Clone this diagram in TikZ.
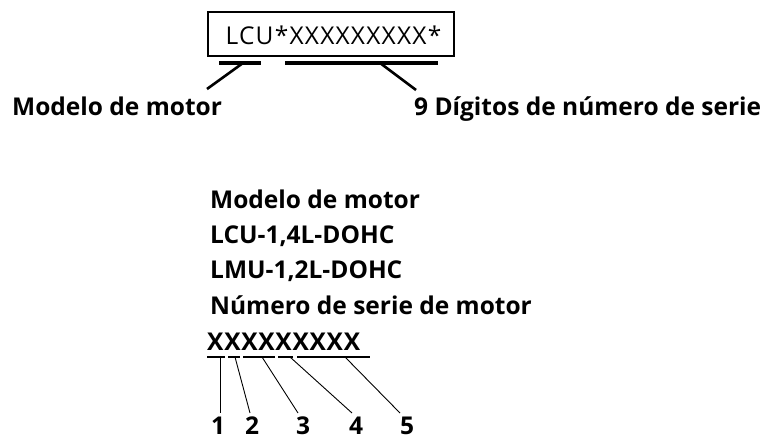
\documentclass[tikz,border=0pt]{standalone}
\usepackage{fontspec}
\setmainfont{Open Sans}
\begin{document}
\begin{tikzpicture}[x=1pt,y=-1pt,
  lbl/.style={font=\fontsize{24.5}{24.5}\selectfont\bfseries, inner sep=0pt},
  codetxt/.style={font=\fontsize{24.5}{24.5}\selectfont\addfontfeature{LetterSpace=5}, inner sep=0pt},
  bar/.style={line width=4pt},
  lead/.style={line width=2.6pt},
  uline/.style={line width=1.2pt},
  thinlead/.style={line width=0.9pt}]
\useasboundingbox[fill=white] (0,0) rectangle (769,439);
% top box
\node[draw, line width=1.2pt, minimum width=246pt, minimum height=44pt, inner sep=0pt] (box) at (331,34) {};
\node[codetxt, anchor=base] (code) at (333.5,45) {LCU*XXXXXXXXX*};
% bars
\coordinate (b1a) at (219,63); \coordinate (b1b) at (261,63);
\coordinate (b2a) at (285,63); \coordinate (b2b) at (438,63);
\draw[bar] (b1a) -- (b1b);
\draw[bar] (b2a) -- (b2b);
\coordinate (l1s) at (243,63); \coordinate (l1e) at (207,89);
\coordinate (l2s) at (380,63); \coordinate (l2e) at (416,90);
\draw[lead] (l1s) -- (l1e);
\draw[lead] (l2s) -- (l2e);
\node[lbl, anchor=base west] (modelo) at (12,115) {Modelo de motor};
\node[lbl, anchor=base west] (digitos) at (414,115) {9 Dígitos de número de serie};
% lower block
\node[lbl, anchor=base west] (t1) at (210,208.5) {Modelo de motor};
\node[lbl, anchor=base west] (t2) at (210,243.5) {LCU-1,4L-DOHC};
\node[lbl, anchor=base west] (t3) at (210,278.5) {LMU-1,2L-DOHC};
\node[lbl, anchor=base west] (t4) at (210,314) {Número de serie de motor};
\node[lbl, anchor=base west, font=\fontsize{24.5}{24.5}\selectfont\bfseries\addfontfeature{LetterSpace=3}] (t5) at (207,350) {XXXXXXXXX};
% underline segments
\coordinate (u1a) at (207,357); \coordinate (u1b) at (225,357);
\coordinate (u2a) at (228,357); \coordinate (u2b) at (240,357);
\coordinate (u3a) at (243,357); \coordinate (u3b) at (275,357);
\coordinate (u4a) at (278,357); \coordinate (u4b) at (293,357);
\coordinate (u5a) at (297,357); \coordinate (u5b) at (370,357);
\foreach \i in {1,...,5} {\draw[uline] (u\i a) -- (u\i b);}
% numbers
\node[lbl, anchor=base] (n1) at (218,434.5) {1};
\node[lbl, anchor=base] (n2) at (252,434.5) {2};
\node[lbl, anchor=base] (n3) at (303,434.5) {3};
\node[lbl, anchor=base] (n4) at (356,434.5) {4};
\node[lbl, anchor=base] (n5) at (407,434.5) {5};
% leaders
\coordinate (s1) at (220,357); \coordinate (e1) at (220,413);
\coordinate (s2) at (235,357); \coordinate (e2) at (250,413);
\coordinate (s3) at (262,357); \coordinate (e3) at (298,413);
\coordinate (s4) at (290,357); \coordinate (e4) at (352,413);
\coordinate (s5) at (345,357); \coordinate (e5) at (400,413);
\foreach \i in {1,...,5} {\draw[thinlead] (s\i) -- (e\i);}
\end{tikzpicture}
\end{document}
